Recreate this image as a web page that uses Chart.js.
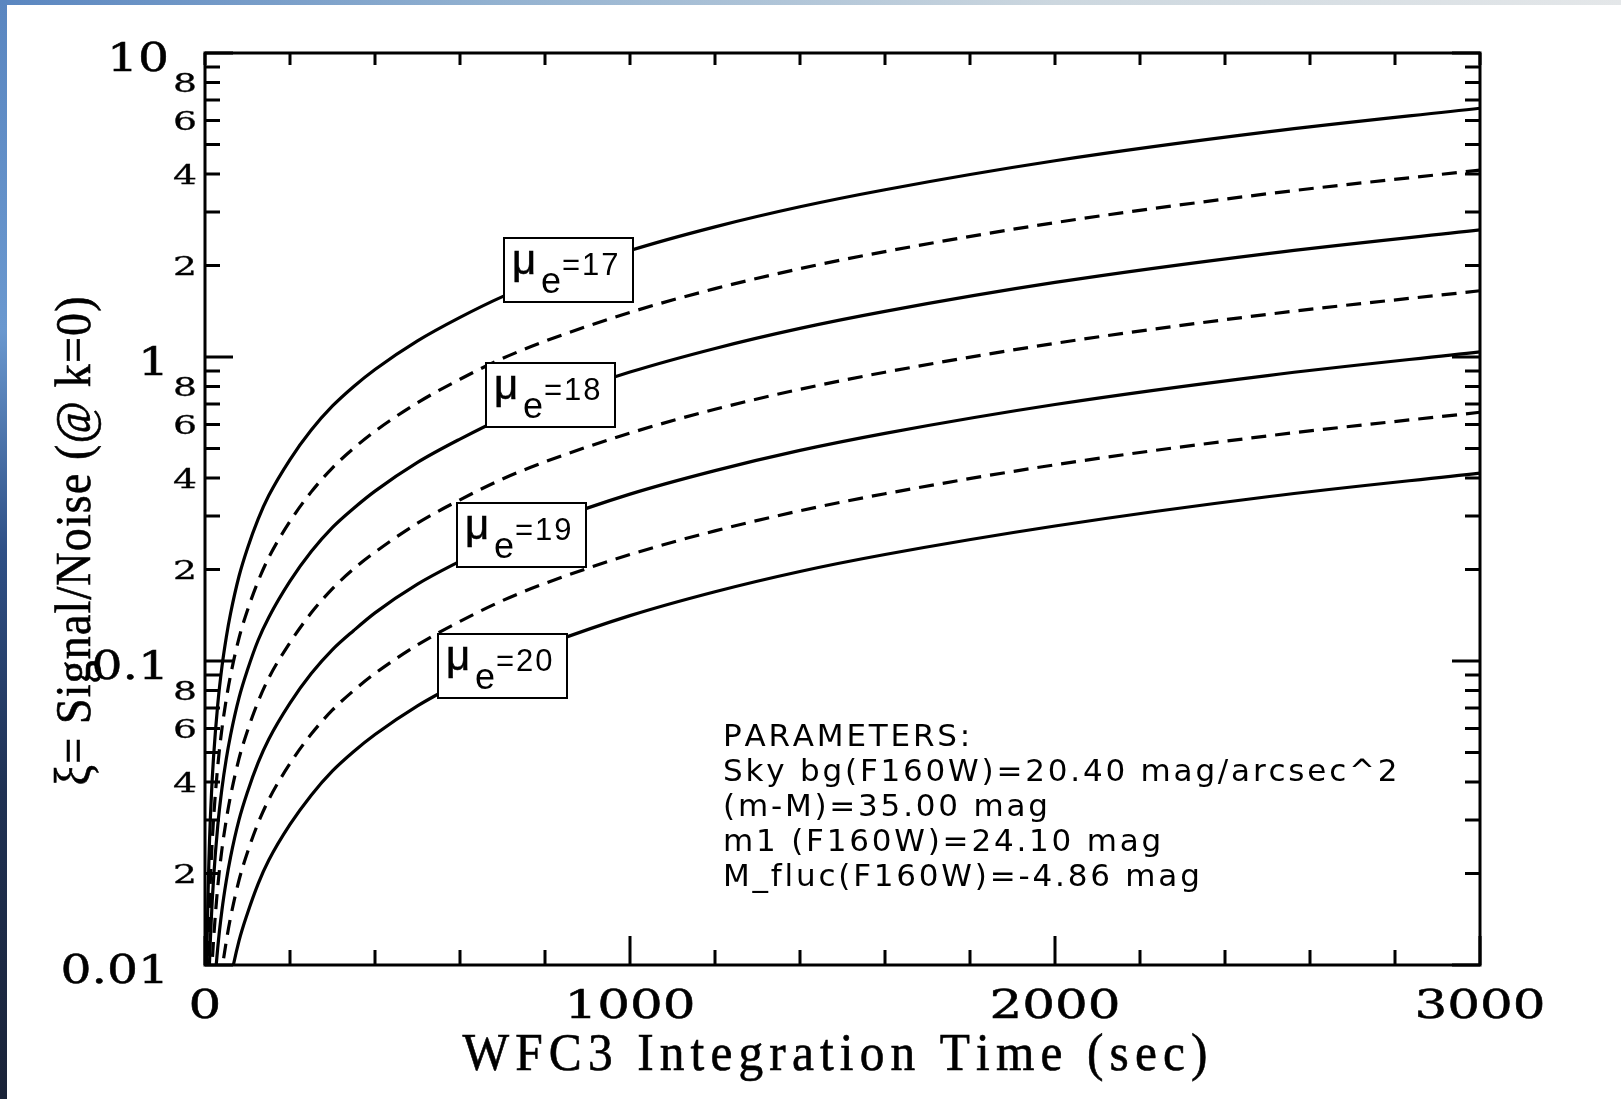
<!DOCTYPE html>
<html>
<head>
<meta charset="utf-8">
<title>WFC3 SBF signal/noise</title>
<script src="https://cdn.jsdelivr.net/npm/chart.js"></script>
<style>
  html, body { margin: 0; padding: 0; background: #fff; overflow: hidden; }
  #chart { display: block; width: 1621px; height: 1099px; }
</style>
</head>
<body>
<canvas id="chart" width="1621" height="1099"></canvas>
<script>
const exposureTimes = [2, 5, 10, 15, 20, 30, 40, 50, 60, 80, 100, 125, 150, 200, 250, 300, 350, 400, 500, 600, 700, 800, 1000, 1200, 1400, 1600, 2000, 2500, 3000];

// signal/noise for each surface brightness mu_e (solid = integer, dashed = half mag)
const snMu17  = [0.0048, 0.012, 0.024, 0.036, 0.048, 0.072, 0.096, 0.1195, 0.143, 0.19, 0.235, 0.293, 0.35, 0.46, 0.575, 0.69, 0.80, 0.91, 1.13, 1.35, 1.58, 1.80, 2.24, 2.68, 3.12, 3.55, 4.42, 5.5, 6.58];
const snMu17h = [0.003, 0.00751, 0.015, 0.0225, 0.03, 0.0451, 0.0601, 0.0748, 0.0895, 0.119, 0.147, 0.183, 0.219, 0.288, 0.36, 0.432, 0.501, 0.57, 0.707, 0.845, 0.989, 1.127, 1.402, 1.678, 1.953, 2.222, 2.767, 3.443, 4.119];
const snMu18  = [0.00191, 0.00478, 0.00955, 0.0143, 0.0191, 0.0287, 0.0382, 0.0476, 0.0569, 0.0756, 0.0935, 0.117, 0.139, 0.183, 0.229, 0.275, 0.318, 0.362, 0.45, 0.537, 0.629, 0.716, 0.892, 1.067, 1.242, 1.413, 1.759, 2.189, 2.619];
const snMu18h = [0.0012, 0.00301, 0.00602, 0.00904, 0.012, 0.0181, 0.0241, 0.03, 0.0359, 0.0477, 0.059, 0.0735, 0.0879, 0.115, 0.144, 0.173, 0.201, 0.228, 0.284, 0.339, 0.397, 0.452, 0.562, 0.673, 0.783, 0.891, 1.109, 1.381, 1.652];
const snMu19  = [0.00076, 0.0019, 0.00379, 0.00569, 0.00758, 0.0114, 0.0152, 0.0189, 0.0226, 0.03, 0.0371, 0.0463, 0.0553, 0.0727, 0.0909, 0.109, 0.126, 0.144, 0.179, 0.213, 0.25, 0.284, 0.354, 0.423, 0.493, 0.561, 0.698, 0.869, 1.04];
const snMu19h = [0.00048, 0.0012, 0.0024, 0.0036, 0.0048, 0.0072, 0.0096, 0.01195, 0.0143, 0.019, 0.0235, 0.0293, 0.035, 0.046, 0.0575, 0.069, 0.08, 0.091, 0.113, 0.135, 0.158, 0.18, 0.224, 0.268, 0.312, 0.355, 0.442, 0.55, 0.658];
const snMu20  = [0.0003, 0.00076, 0.00151, 0.00227, 0.00302, 0.00454, 0.00605, 0.00753, 0.009, 0.012, 0.0148, 0.0185, 0.0221, 0.029, 0.0362, 0.0435, 0.0504, 0.0573, 0.0712, 0.085, 0.0995, 0.113, 0.141, 0.169, 0.197, 0.224, 0.278, 0.347, 0.415];

const seriesNames = ['mu_e=17', 'mu_e=17.5', 'mu_e=18', 'mu_e=18.5', 'mu_e=19', 'mu_e=19.5', 'mu_e=20'];
const seriesValues = [snMu17, snMu17h, snMu18, snMu18h, snMu19, snMu19h, snMu20];

// axes
const timeTicks = [0, 200, 400, 600, 800, 1000, 1200, 1400, 1600, 1800, 2000, 2200, 2400, 2600, 2800, 3000];
const timeLabels = ['0', '1000', '2000', '3000'];
const snTicks = [0.01, 0.02, 0.03, 0.04, 0.05, 0.06, 0.07, 0.08, 0.09,
                 0.1, 0.2, 0.3, 0.4, 0.5, 0.6, 0.7, 0.8, 0.9,
                 1, 2, 3, 4, 5, 6, 7, 8, 9, 10];
const snDecadeLabels = ['0.01', '0.1', '1', '10'];
const snMinorLabels = ['2', '4', '6', '8'];

// boxed curve labels and text block
const muLabels = ['17', '18', '19', '20'];
const paramLines = [
  'PARAMETERS:',
  'Sky bg(F160W)=20.40 mag/arcsec^2',
  '(m-M)=35.00 mag',
  'm1 (F160W)=24.10 mag',
  'M_fluc(F160W)=-4.86 mag'
];
const xTitle = 'WFC3 Integration Time (sec)';
const yTitle = '\u03BE= Signal/Noise (@ k=0)';

// where the boxes sit, in data units (time, S/N)
const boxAnchors = [[855, 1.93], [813, 0.75], [745, 0.26], [701, 0.0966]];

function ink(ctx, s, x, y, weight) {
  ctx.fillText(s, x, y);
  if (weight) {
    ctx.lineWidth = weight;
    ctx.strokeText(s, x, y);
  }
}

function spacedText(ctx, text, x, y, spacing, align, weight) {
  const chars = Array.from(text);
  const w = chars.map(c => ctx.measureText(c).width);
  const total = w.reduce((a, b) => a + b, 0) + spacing * (chars.length - 1);
  let cx = align === 'center' ? x - total / 2 : (align === 'right' ? x - total : x);
  ctx.textAlign = 'left';
  chars.forEach((c, i) => { ink(ctx, c, cx, y, weight); cx += w[i] + spacing; });
}

// squeeze glyphs by sx and spread them out so the line is `width` long
function fitText(ctx, text, x, y, width, sx, weight) {
  const chars = Array.from(text);
  const sum = chars.reduce((a, c) => a + ctx.measureText(c).width, 0);
  ctx.save();
  ctx.translate(x, y);
  ctx.scale(sx, 1);
  spacedText(ctx, text, 0, 0, (width / sx - sum) / (chars.length - 1), 'center', weight);
  ctx.restore();
}

function stretched(ctx, text, x, y, sx, align, weight) {
  ctx.save();
  ctx.translate(x, y);
  ctx.scale(sx, 1);
  ctx.textAlign = align;
  ink(ctx, text, 0, 0, weight);
  ctx.restore();
}

const decorations = {
  id: 'decorations',
  beforeDraw(chart) {
    const ctx = chart.ctx;
    ctx.save();
    ctx.fillStyle = '#fff';
    ctx.fillRect(0, 0, chart.width, chart.height);
    const top = ctx.createLinearGradient(0, 0, chart.width, 0);
    top.addColorStop(0, '#5a86c0');
    top.addColorStop(0.3, '#92b1d0');
    top.addColorStop(0.65, '#ccd7df');
    top.addColorStop(1, '#e4e7e9');
    ctx.fillStyle = top;
    ctx.fillRect(0, 0, chart.width, 5);
    const left = ctx.createLinearGradient(0, 0, 0, chart.height);
    left.addColorStop(0, '#5a86c0');
    left.addColorStop(0.3, '#6a98cf');
    left.addColorStop(0.5, '#2f5086');
    left.addColorStop(0.72, '#1f3153');
    left.addColorStop(1, '#1a2338');
    ctx.fillStyle = left;
    ctx.fillRect(0, 0, 7, chart.height);
    ctx.restore();
  },
  afterDatasetsDraw(chart) {
    const ctx = chart.ctx;
    const a = chart.chartArea;
    const xs = chart.scales.x, ys = chart.scales.y;
    ctx.save();
    ctx.strokeStyle = '#000';
    ctx.fillStyle = '#000';
    ctx.textBaseline = 'alphabetic';

    // labelled boxes over the curves
    boxAnchors.forEach((p, i) => {
      const cx = xs.getPixelForValue(p[0]);
      const cy = ys.getPixelForValue(p[1]);
      const l = Math.round(cx - 64.5), t = Math.round(cy - 32);
      ctx.fillStyle = '#fff';
      ctx.fillRect(l, t, 129, 64);
      ctx.lineWidth = 2;
      ctx.strokeRect(l, t, 129, 64);
      ctx.fillStyle = '#000';
      ctx.textAlign = 'left';
      ctx.font = '42px "Liberation Sans", Arial, sans-serif';
      ink(ctx, '\u03BC', l + 8, t + 36, 0.6);
      ctx.font = '36px "Liberation Sans", Arial, sans-serif';
      ctx.fillText('e', l + 37, t + 55);
      ctx.font = '31px "Liberation Sans", Arial, sans-serif';
      spacedText(ctx, '=' + muLabels[i], l + 58, t + 37, 2, 'left');
    });

    // frame
    ctx.lineWidth = 3;
    ctx.strokeRect(a.left, a.top, a.right - a.left, a.bottom - a.top);

    // x ticks (inward, bottom and top)
    ctx.beginPath();
    timeTicks.forEach(v => {
      const x = xs.getPixelForValue(v);
      const major = v % 1000 === 0;
      ctx.moveTo(x, a.bottom);
      ctx.lineTo(x, a.bottom - (major ? 29 : 15));
      ctx.moveTo(x, a.top);
      ctx.lineTo(x, a.top + 12);
    });
    // y ticks (inward, left and right)
    snTicks.forEach(v => {
      const y = ys.getPixelForValue(v);
      const m = Math.round(v / Math.pow(10, Math.floor(Math.log10(v) + 1e-9)));
      const len = m === 1 ? 28 : 15;
      ctx.moveTo(a.left, y);
      ctx.lineTo(a.left + len, y);
      ctx.moveTo(a.right, y);
      ctx.lineTo(a.right - len, y);
    });
    ctx.stroke();

    // tick labels
    ctx.font = '39px "DejaVu Serif", serif';
    timeLabels.forEach(lab => {
      stretched(ctx, lab, xs.getPixelForValue(Number(lab)), 1018, 1.32, 'center', 0.5);
    });
    snTicks.forEach(v => {
      const y = ys.getPixelForValue(v);
      const m = Math.round(v / Math.pow(10, Math.floor(Math.log10(v) + 1e-9)));
      if (m === 1) {
        const lab = snDecadeLabels.find(s => Math.abs(Number(s) - v) < 1e-9);
        ctx.font = '39px "DejaVu Serif", serif';
        stretched(ctx, lab, 169, y + 18, 1.25, 'right', 0.5);
      } else if (snMinorLabels.includes(String(m))) {
        ctx.font = '26px "DejaVu Serif", serif';
        stretched(ctx, String(m), 197, y + 10, 1.45, 'right', 0.3);
      }
    });

    // axis titles
    ctx.font = '52px "Liberation Serif", "Times New Roman", serif';
    fitText(ctx, xTitle, 835, 1070, 745, 0.95, 0.6);
    ctx.save();
    ctx.translate(90, 541);
    ctx.rotate(-Math.PI / 2);
    ctx.font = '50px "Liberation Serif", "Times New Roman", serif';
    fitText(ctx, yTitle, 0, 0, 489, 0.92, 0.6);
    ctx.restore();

    // parameter block
    ctx.font = '31px "DejaVu Sans", Verdana, sans-serif';
    paramLines.forEach((line, i) => spacedText(ctx, line, 723, 746 + i * 35, 2.8, 'left'));

    ctx.restore();
  }
};

const datasets = seriesValues.map((vals, i) => ({
  label: seriesNames[i],
  data: exposureTimes.map((t, j) => ({ x: t, y: vals[j] })),
  borderColor: '#000',
  borderWidth: 3.2,
  borderDash: i % 2 === 1 ? [15, 9] : [],
  pointRadius: 0,
  cubicInterpolationMode: 'monotone',
  fill: false
}));

new Chart(document.getElementById('chart'), {
  type: 'line',
  data: { datasets },
  options: {
    responsive: false,
    animation: false,
    devicePixelRatio: 1,
    layout: { padding: { left: 205, right: 141, top: 53, bottom: 134 } },
    plugins: { legend: { display: false }, tooltip: { enabled: false } },
    scales: {
      x: { type: 'linear', min: 0, max: 3000, display: false },
      y: { type: 'logarithmic', min: 0.01, max: 10, display: false }
    }
  },
  plugins: [decorations]
});
</script>
</body>
</html>
